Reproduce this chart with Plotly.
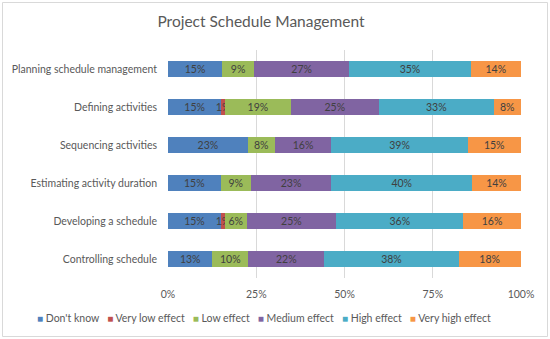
import plotly.graph_objects as go

categories = ["Planning schedule management", "Defining activities", "Sequencing activities",
              "Estimating activity duration", "Developing a schedule", "Controlling schedule"]
series_names = ["Don't know", "Very low effect", "Low effect", "Medium effect", "High effect", "Very high effect"]
dont_know = [15.3, 15.1, 22.6, 14.9, 15.0, 12.6]
very_low = [0, 1.0, 0, 0, 1.1, 0]
low = [9.1, 18.7, 7.6, 8.6, 6.2, 10.1]
medium = [26.9, 24.9, 16.1, 22.7, 25.3, 21.6]
high = [34.5, 32.6, 38.6, 40.0, 36.1, 38.0]
very_high = [14.1, 7.6, 15.0, 13.7, 16.2, 17.6]
tick_vals = [0, 25, 50, 75, 100]
tick_text = ["0%", "25%", "50%", "75%", "100%"]

colors = ["#4F81BD", "#C0504D", "#9BBB59", "#8064A2", "#4BACC6", "#F79646"]
series = [dont_know, very_low, low, medium, high, very_high]

FONT = "Lato, Open Sans, sans-serif"
FS = 10.5
W, H = 550, 339
L, R, T, B = 168, 29, 50, 61

fig = go.Figure()
for name, vals, col in zip(series_names, series, colors):
    fig.add_trace(go.Bar(
        y=categories, x=vals, name=name, orientation="h",
        marker=dict(color=col, line=dict(width=0)),
        text=[f"{int(v + 0.5)}%" if v > 0 else "" for v in vals],
        textposition="inside", insidetextanchor="middle",
        textfont=dict(family=FONT, size=FS, color="#404040"),
        textangle=0,
        constraintext="none", cliponaxis=False,
        hoverinfo="skip", showlegend=False,
    ))

pw, ph = W - L - R, H - T - B
def px(x):
    return (x - L) / pw
def py(y):
    return (H - B - y) / ph

legend_text = "   ".join(
    f"<span style='color:{c};font-size:10px'>■</span> {n}" for n, c in zip(series_names, colors)
)

fig.update_layout(
    width=W, height=H, barmode="stack", bargap=0.6,
    margin=dict(l=L, r=R, t=T, b=B, autoexpand=False),
    paper_bgcolor="white", plot_bgcolor="white",
    font=dict(family=FONT, color="#595959", size=FS),
    uniformtext=dict(minsize=FS, mode="show"),
    title=dict(text="Project Schedule Management", x=261 / W, xref="container", xanchor="center",
               y=1 - 22 / H, yanchor="middle", font=dict(size=15.5, color="#595959", family=FONT)),
    xaxis=dict(range=[0, 100], tickvals=tick_vals, ticktext=tick_text, automargin=False,
               showgrid=True, gridcolor="#D9D9D9", gridwidth=1, zeroline=False,
               showline=False, ticks="", tickfont=dict(size=FS, color="#595959"),
               tickangle=0, ticklabelstandoff=8, fixedrange=True),
    yaxis=dict(autorange="reversed", showgrid=False, showline=False, ticks="", automargin=False,
               ticklabelstandoff=10, tickfont=dict(size=FS, color="#595959"), fixedrange=True),
    showlegend=False,
    annotations=[dict(text=legend_text, xref="paper", yref="paper",
                      x=px(264), y=py(318), xanchor="center", yanchor="middle",
                      showarrow=False, font=dict(size=FS, color="#595959", family=FONT))],
    shapes=[dict(type="rect", xref="paper", yref="paper",
                 x0=px(2.5), x1=px(547.5), y0=py(336.5), y1=py(2.5),
                 line=dict(color="#D9D9D9", width=1), fillcolor="rgba(0,0,0,0)", layer="below")],
)

fig.write_html("out.html", config={"displayModeBar": False},
               post_script="document.body.style.margin='0';")
